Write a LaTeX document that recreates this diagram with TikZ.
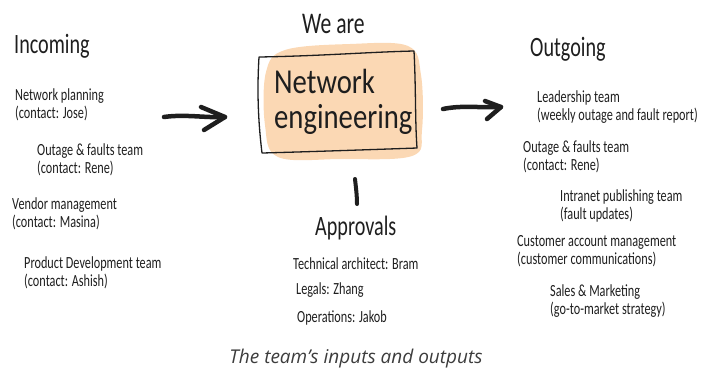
\documentclass[tikz,border=0pt]{standalone}
\usepackage{fontspec}
\newfontfamily\handfont[FakeStretch=0.72]{Carlito}
\newfontfamily\boxfont[FakeStretch=0.82]{Carlito}
\newfontfamily\capfont{Open Sans}
\definecolor{ink}{RGB}{30,30,30}
\definecolor{peach}{RGB}{251,216,180}
\definecolor{captiongray}{RGB}{60,60,60}
\begin{document}
\begin{tikzpicture}[x=1pt,y=-1pt,
  % multi-line nodes are placed by the baseline of their last line
  item/.style={anchor=base west, inner sep=0pt, align=left, text=ink,
    font=\handfont\fontsize{17}{18}\selectfont},
  heading/.style={anchor=base west, inner sep=0pt, text=ink,
    font=\handfont\fontsize{28}{30}\selectfont},
  brush/.style={line width=4.5pt, line cap=round, line join=round, draw=ink}]
\useasboundingbox (0,0) rectangle (701,376);

% ---- centre: the team itself ----
\fill[peach] plot[smooth cycle, tension=0.6] coordinates
  {(266,72) (285,50) (350,44) (408,46) (421,75) (422,130) (412,156) (340,159) (278,157) (265,125)};
\draw[ink, line width=1.3pt, line join=round]
  (259,57) .. controls (320,56) and (370,52) .. (414,51)
  .. controls (416,90) and (415,120) .. (417,148)
  .. controls (360,150) and (300,152) .. (262,153)
  .. controls (258,120) and (257,90) .. (259,57) -- cycle;
\node[anchor=base west, inner sep=0pt, text=ink, font=\handfont\fontsize{30}{32}\selectfont]
  (weare) at (302,33) {We are};
\node[anchor=base west, inner sep=0pt, align=left, text=ink,
  font=\boxfont\fontsize{35}{35}\selectfont] (team) at (274,128) {Network\\engineering};

% ---- incoming ----
\node[heading] (incoming) at (14,53) {Incoming};
\node[item] (in1) at (15,118) {Network planning\\(contact: Jose)};
\node[item] (in2) at (37,173) {Outage \& faults team\\(contact: Rene)};
\node[item] (in3) at (12,227) {Vendor management\\(contact: Masina)};
\node[item] (in4) at (24,286) {Product Development team\\(contact: Ashish)};

% ---- approvals ----
\node[heading] (approvals) at (315,235) {Approvals};
\node[item] (ap1) at (293,269) {Technical architect: Bram};
\node[item] (ap2) at (296,294) {Legals: Zhang};
\node[item] (ap3) at (297,322) {Operations: Jakob};

% ---- outgoing ----
\node[heading] (outgoing) at (530,56) {Outgoing};
\node[item] (out1) at (537,120) {Leadership team\\(weekly outage and fault report)};
\node[item] (out2) at (523,170) {Outage \& faults team\\(contact: Rene)};
\node[item] (out3) at (560,219) {Intranet publishing team\\(fault updates)};
\node[item] (out4) at (517,264) {Customer account management\\(customer communications)};
\node[item] (out5) at (550,314) {Sales \& Marketing\\(go-to-market strategy)};

% ---- brush strokes ----
\coordinate (inTail) at (164,117);
\coordinate (inTip)  at (225,117);
\coordinate (inUp)   at (201,107);
\coordinate (inDown) at (204,130);
\draw[brush] (inTail) .. controls (185,114) and (205,118) .. (inTip);
\draw[brush] (inUp) -- (inTip) -- (inDown);

\coordinate (outTail) at (443,109);
\coordinate (outTip)  at (501,107);
\coordinate (outUp)   at (485,101);
\coordinate (outDown) at (487,119);
\draw[brush] (outTail) .. controls (462,105) and (480,108) .. (outTip);
\draw[brush] (outUp) -- (outTip) -- (outDown);

\coordinate (apTop) at (355,179);
\coordinate (apBot) at (357,204);
\draw[brush, line width=4pt] (apTop) .. controls (356,188) and (357,196) .. (apBot);

% ---- caption ----
\node[anchor=base, inner sep=0pt, text=captiongray,
  font=\capfont\itshape\fontsize{19}{22}\selectfont] (caption) at (356,363)
  {The team’s inputs and outputs};
\end{tikzpicture}
\end{document}
